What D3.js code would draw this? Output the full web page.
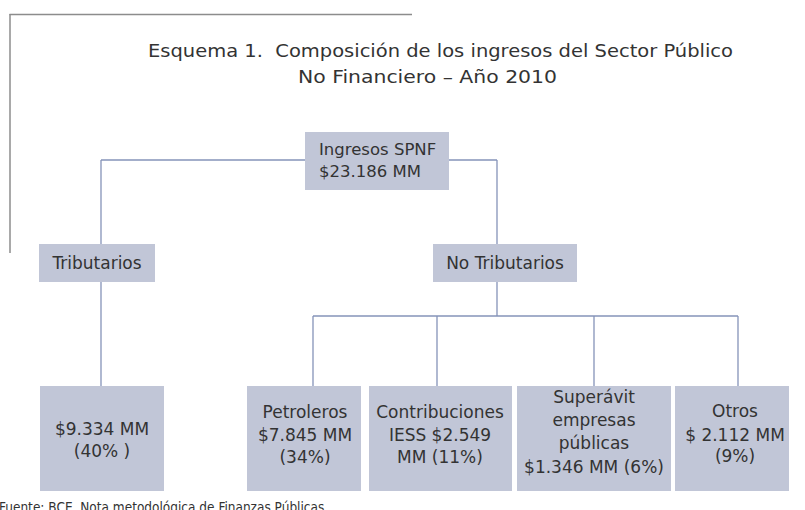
<!DOCTYPE html>
<html>
<head>
<meta charset="utf-8">
<script src="https://cdn.jsdelivr.net/npm/d3@7"></script>
<style>
  html, body { margin: 0; padding: 0; background: #ffffff; }
  svg { display: block; }
  text { white-space: pre; }
</style>
</head>
<body>
<div id="chart"></div>
<script>
// ---------- DATA ----------
const titleLines = ["Esquema 1.  Composición de los ingresos del Sector Público", "No Financiero – Año 2010"];
const sourceNote = "Fuente: BCE, Nota metodológica de Finanzas Públicas";

// node ids, parents and names
const nodeIds     = ["root", "trib", "notrib", "tribVal", "petro", "iess", "superavit", "otros"];
const nodeParents = [null, "root", "root", "trib", "notrib", "notrib", "notrib", "notrib"];
const nodeNames   = ["Ingresos SPNF", "Tributarios", "No Tributarios", "", "Petroleros", "Contribuciones IESS", "Superávit empresas públicas", "Otros"];
// values in millions of US$ (MM) and shares of total (%)
const nodeValues  = [23186, null, null, 9334, 7845, 2549, 1346, 2112];
const nodeShares  = [null, null, null, 40, 34, 11, 6, 9];

// text lines as printed in the scheme (built from the values above)
const fmt = d3.formatLocale({decimal: ",", thousands: ".", grouping: [3], currency: ["$", ""]}).format(",");
const money = v => "$" + fmt(v) + " MM";
const nodeLines = [
  [nodeNames[0], money(nodeValues[0])],
  [nodeNames[1]],
  [nodeNames[2]],
  [money(nodeValues[3]), "(" + nodeShares[3] + "% )"],
  [nodeNames[4], money(nodeValues[4]), "(" + nodeShares[4] + "%)"],
  ["Contribuciones", "IESS " + "$" + fmt(nodeValues[5]), "MM (" + nodeShares[5] + "%)"],
  ["Superávit", "empresas", "públicas", money(nodeValues[6]) + " (" + nodeShares[6] + "%)"],
  [nodeNames[7], "$ " + fmt(nodeValues[7]) + " MM", "(" + nodeShares[7] + "%)"]
];

// ---------- LAYOUT (positions / sizes only) ----------
const W = 805, H = 510;
const layout = {
  root:      {x0: 305, x1: 449, y0: 132, y1: 190, anchor: "start", tx: 319, base: [155, 177], lx: 377, fs: 16.5},
  trib:      {x0: 39,  x1: 155, y0: 244, y1: 282, anchor: "middle", tx: 97,  base: [269], lx: 101, fs: 17},
  notrib:    {x0: 433, x1: 577, y0: 244, y1: 282, anchor: "middle", tx: 505, base: [269], lx: 497, fs: 17},
  tribVal:   {x0: 40,  x1: 164, y0: 386, y1: 491, anchor: "middle", tx: 102, base: [435, 457], lx: 101, fs: 17},
  petro:     {x0: 247, x1: 361, y0: 386, y1: 491, anchor: "middle", tx: 305, base: [418, 441, 463], lx: 313, fs: 17},
  iess:      {x0: 369, x1: 512, y0: 386, y1: 491, anchor: "middle", tx: 440, base: [418, 441, 463], lx: 437, fs: 17},
  superavit: {x0: 517, x1: 671, y0: 386, y1: 491, anchor: "middle", tx: 594, base: [403, 426, 449, 473], lx: 594, fs: 17},
  otros:     {x0: 675, x1: 789, y0: 386, y1: 491, anchor: "middle", tx: 735, base: [417, 441, 462], lx: 738, fs: 17}
};
const titleLayout = [{x: 440.5, y: 57, len: 585}, {x: 427.5, y: 83, len: 259}];
const rootBarY = 160;
const leafBarY = 316;

const boxFill = "#c1c6d7";
const linkColor = "#8593b9";
const textColor = "#333333";
const fontFamily = "'DejaVu Sans', 'Noto Sans', sans-serif";

// ---------- BUILD HIERARCHY ----------
const table = nodeIds.map((id, i) => ({id, parent: nodeParents[i], name: nodeNames[i], value: nodeValues[i], share: nodeShares[i], lines: nodeLines[i]}));
const root = d3.stratify().id(d => d.id).parentId(d => d.parent)(table);

const svg = d3.select("#chart").append("svg").attr("width", W).attr("height", H);

// frame lines (top and left)
svg.append("line").attr("x1", 9.5).attr("x2", 412).attr("y1", 14.5).attr("y2", 14.5)
  .attr("stroke", "#8c8c8c").attr("stroke-width", 1.5);
svg.append("line").attr("x1", 10).attr("x2", 10).attr("y1", 14).attr("y2", 253)
  .attr("stroke", "#8c8c8c").attr("stroke-width", 1.5);

// title
svg.append("g").selectAll("text").data(titleLines).join("text")
  .attr("x", (d, i) => titleLayout[i].x)
  .attr("y", (d, i) => titleLayout[i].y)
  .attr("text-anchor", "middle")
  .attr("textLength", (d, i) => titleLayout[i].len)
  .attr("lengthAdjust", "spacingAndGlyphs")
  .attr("font-family", fontFamily).attr("font-size", 18)
  .attr("fill", textColor)
  .text(d => d);

// links (elbow connectors)
const linkG = svg.append("g").attr("stroke", linkColor).attr("stroke-width", 1.3).attr("fill", "none");
root.each(node => {
  if (!node.children) return;
  const p = layout[node.id];
  const kids = node.children.map(c => layout[c.id]);
  if (node.depth === 0) {
    const xs = kids.map(k => k.lx);
    linkG.append("line").attr("x1", d3.min(xs)).attr("x2", d3.max(xs)).attr("y1", rootBarY).attr("y2", rootBarY);
    kids.forEach(k => linkG.append("line").attr("x1", k.lx).attr("x2", k.lx).attr("y1", rootBarY).attr("y2", k.y0));
  } else if (kids.length === 1) {
    linkG.append("line").attr("x1", p.lx).attr("x2", p.lx).attr("y1", p.y1).attr("y2", kids[0].y0);
  } else {
    const xs = kids.map(k => k.lx);
    linkG.append("line").attr("x1", p.lx).attr("x2", p.lx).attr("y1", p.y1).attr("y2", leafBarY);
    linkG.append("line").attr("x1", d3.min(xs)).attr("x2", d3.max(xs)).attr("y1", leafBarY).attr("y2", leafBarY);
    kids.forEach(k => linkG.append("line").attr("x1", k.lx).attr("x2", k.lx).attr("y1", leafBarY).attr("y2", k.y0));
  }
});

// boxes
const nodeG = svg.append("g").selectAll("g").data(root.descendants()).join("g");
nodeG.append("rect")
  .attr("x", d => layout[d.id].x0).attr("y", d => layout[d.id].y0)
  .attr("width", d => layout[d.id].x1 - layout[d.id].x0)
  .attr("height", d => layout[d.id].y1 - layout[d.id].y0)
  .attr("fill", boxFill);
nodeG.each(function(d) {
  const L = layout[d.id];
  d3.select(this).selectAll("text").data(d.data.lines).join("text")
    .attr("x", L.tx).attr("y", (t, i) => L.base[i])
    .attr("text-anchor", L.anchor)
    .attr("font-family", fontFamily).attr("font-size", L.fs)
    .attr("fill", textColor)
    .text(t => t);
});

// source note (clipped at the bottom edge, as in the original)
svg.append("text").attr("x", -1).attr("y", 512)
  .attr("font-family", "'Liberation Sans Narrow', 'Arial Narrow', 'DejaVu Sans Condensed', sans-serif")
  .attr("font-size", 13.5).attr("fill", "#333")
  .text(sourceNote);
</script>
</body>
</html>
